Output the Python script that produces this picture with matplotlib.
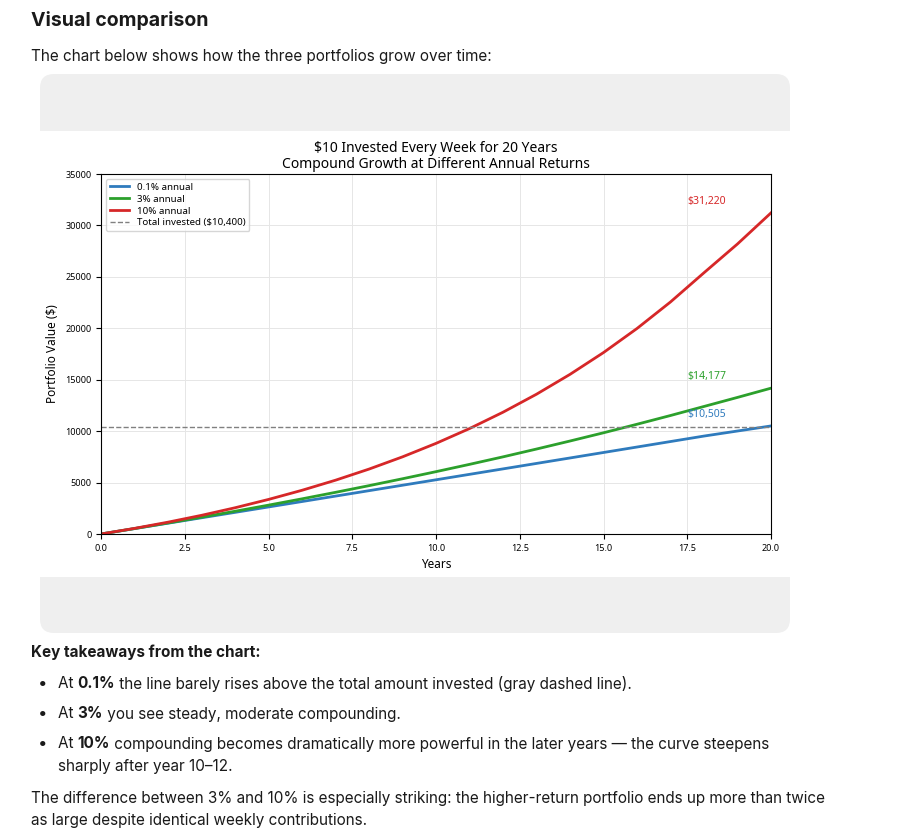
import matplotlib
matplotlib.use("Agg")
import matplotlib.pyplot as plt
from matplotlib.patches import FancyBboxPatch, Rectangle

years = list(range(0, 21))
low = [0, 525, 1050, 1576, 2102, 2629, 3156, 3684, 4212, 4741, 5270, 5800, 6330, 6861, 7392, 7924, 8456, 8989, 9522, 10013, 10505]
mid = [0, 528, 1072, 1633, 2210, 2805, 3418, 4050, 4700, 5370, 6060, 6770, 7500, 8260, 9040, 9840, 10670, 11520, 12400, 13280, 14177]
high = [0, 546, 1150, 1815, 2550, 3360, 4250, 5230, 6310, 7500, 8810, 10250, 11840, 13590, 15520, 17640, 19980, 22560, 25400, 28200, 31220]
invested = 10400
labels = ["0.1% annual", "3% annual", "10% annual", "Total invested ($10,400)"]
colors = ["#2f7bbd", "#2ca02c", "#d62728"]
finals = ["$10,505", "$14,177", "$31,220"]

W, H = 898, 831
fig = plt.figure(figsize=(W/100, H/100), dpi=100)
fig.patch.set_facecolor("white")
def fx(x): return x/W
def fy(y): return 1 - y/H

bg = fig.add_axes([0, 0, 1, 1]); bg.set_xlim(0, W); bg.set_ylim(H, 0); bg.axis("off")
bg.add_patch(FancyBboxPatch((40, 74), 750, 559, boxstyle="round,pad=0,rounding_size=14", fc="#efefef", ec="none"))
bg.add_patch(Rectangle((40, 131), 750, 446, fc="white", ec="none"))
F = "Inter"
bg.text(31, 21, "Visual comparison", fontsize=14, fontweight="bold", family=F, va="center", color="#1a1a1a")
bg.text(31, 56, "The chart below shows how the three portfolios grow over time:", fontsize=11, family=F, va="center", color="#1a1a1a")
bg.text(31, 652, "Key takeaways from the chart:", fontsize=11, fontweight="bold", family=F, va="center", color="#1a1a1a")
bullets = [(684, [("At ", "normal"), ("0.1%", "bold"), (" the line barely rises above the total amount invested (gray dashed line).", "normal")]),
           (714, [("At ", "normal"), ("3%", "bold"), (" you see steady, moderate compounding.", "normal")]),
           (744, [("At ", "normal"), ("10%", "bold"), (" compounding becomes dramatically more powerful in the later years — the curve steepens", "normal")])]
for y, parts in bullets:
    bg.text(38, y, "•", fontsize=12, family=F, va="center", color="#1a1a1a")
    x = 58
    for s, w in parts:
        t = bg.text(x, y, s, fontsize=11, family=F, fontweight=w, va="center", color="#1a1a1a")
        fig.canvas.draw()
        bb = t.get_window_extent()
        x += bb.width
bg.text(58, 766, "sharply after year 10–12.", fontsize=11, family=F, va="center", color="#1a1a1a")
bg.text(31, 799, "The difference between 3% and 10% is especially striking: the higher-return portfolio ends up more than twice", fontsize=11, family=F, va="center", color="#1a1a1a")
bg.text(31, 821, "as large despite identical weekly contributions.", fontsize=11, family=F, va="center", color="#1a1a1a")

ax = fig.add_axes([fx(101), fy(534), 670/W, 360/H])
cf = "Noto Sans"
for v, c, l in zip([low, mid, high], colors, labels):
    ax.plot(years, v, color=c, lw=2, label=l)
ax.axhline(invested, color="gray", ls="--", lw=1, label=labels[3])
for v, c, s in zip([low, mid, high], colors, finals):
    ax.text(17.5, v[-1] + 900, s, color=c, fontsize=7.5, family=cf)
ax.set_xlim(0, 20); ax.set_ylim(0, 35000)
ax.set_xticks([0, 2.5, 5, 7.5, 10, 12.5, 15, 17.5, 20])
ax.set_yticks(range(0, 35001, 5000))
ax.tick_params(labelsize=6.5)
for t in ax.get_xticklabels() + ax.get_yticklabels():
    t.set_family(cf)
ax.grid(True, color="#e6e6e6", lw=0.7)
ax.set_xlabel("Years", fontsize=8.5, family=cf)
ax.set_ylabel("Portfolio Value ($)", fontsize=8.5, family=cf)
ax.set_title("$10 Invested Every Week for 20 Years\nCompound Growth at Different Annual Returns", fontsize=10, family=cf, pad=4, linespacing=1.1)
leg = ax.legend(loc="upper left", prop={"family": cf, "size": 7}, handlelength=2, labelspacing=0.3, borderpad=0.4)
fig.savefig("out.png", dpi=100)
